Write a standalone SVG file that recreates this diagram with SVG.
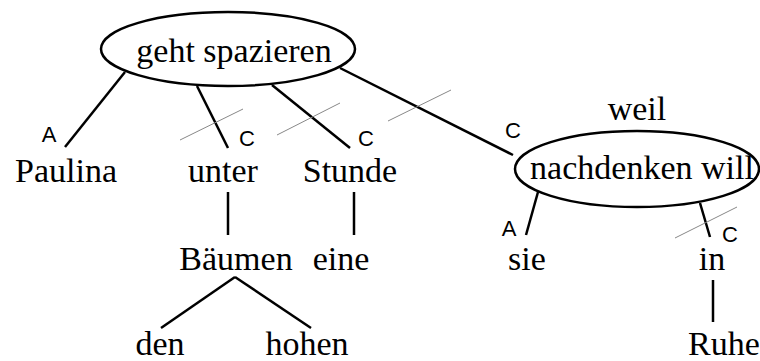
<svg xmlns="http://www.w3.org/2000/svg" width="760" height="361" viewBox="0 0 760 361">
<style>
.w{font-family:"Liberation Serif","Times New Roman",serif;font-size:34px;fill:#000;text-anchor:middle}
.lab{font-family:"Liberation Sans",Arial,sans-serif;font-size:22px;fill:#000;text-anchor:middle}
.e{fill:#fff;stroke:#000;stroke-width:2.5}
.k{stroke:#000;stroke-width:2.5}
.s{stroke:#888;stroke-width:1}
</style>
<rect width="760" height="361" fill="#fff"/>
<g id="edges">
<line class="k" x1="125" y1="72" x2="65" y2="147"/>
<line class="k" x1="197" y1="86" x2="228" y2="148"/>
<line class="k" x1="272" y1="85" x2="350" y2="148"/>
<line class="k" x1="340" y1="68" x2="513" y2="155"/>
<line class="k" x1="538" y1="192" x2="526" y2="235"/>
<line class="k" x1="700" y1="203" x2="710" y2="237"/>
<line class="k" x1="228" y1="192" x2="228" y2="235"/>
<line class="k" x1="354" y1="192" x2="354" y2="235"/>
<line class="k" x1="235" y1="277" x2="161" y2="328"/>
<line class="k" x1="235" y1="277" x2="311" y2="328"/>
<line class="k" x1="713" y1="280" x2="713" y2="322"/>
<line class="s" x1="180" y1="140" x2="243" y2="109"/>
<line class="s" x1="277" y1="135" x2="340" y2="103"/>
<line class="s" x1="388" y1="121" x2="451" y2="90"/>
<line class="s" x1="675" y1="238" x2="737" y2="207"/>
<text class="lab" x="49" y="142">A</text>
<text class="lab" x="247" y="146">C</text>
<text class="lab" x="366" y="146">C</text>
<text class="lab" x="513" y="138">C</text>
<text class="lab" x="509" y="236">A</text>
<text class="lab" x="730" y="242">C</text>
</g>
<g id="n-geht"><ellipse class="e" cx="228" cy="49" rx="127" ry="37"/><text class="w" x="234" y="62">geht spazieren</text></g>
<g id="n-nachdenken"><ellipse class="e" cx="637" cy="169" rx="122" ry="38"/><text class="w" x="642" y="179">nachdenken will</text></g>
<g id="n-weil"><text class="w" x="637" y="120">weil</text></g>
<g id="n-paulina"><text class="w" x="66" y="182">Paulina</text></g>
<g id="n-unter"><text class="w" x="223" y="182">unter</text></g>
<g id="n-stunde"><text class="w" x="350" y="182">Stunde</text></g>
<g id="n-baeumen"><text class="w" x="236" y="270">Bäumen</text></g>
<g id="n-eine"><text class="w" x="341" y="270">eine</text></g>
<g id="n-den"><text class="w" x="160" y="355">den</text></g>
<g id="n-hohen"><text class="w" x="307" y="355">hohen</text></g>
<g id="n-sie"><text class="w" x="527" y="270">sie</text></g>
<g id="n-in"><text class="w" x="712" y="270">in</text></g>
<g id="n-ruhe"><text class="w" x="724" y="355">Ruhe</text></g>
</svg>
